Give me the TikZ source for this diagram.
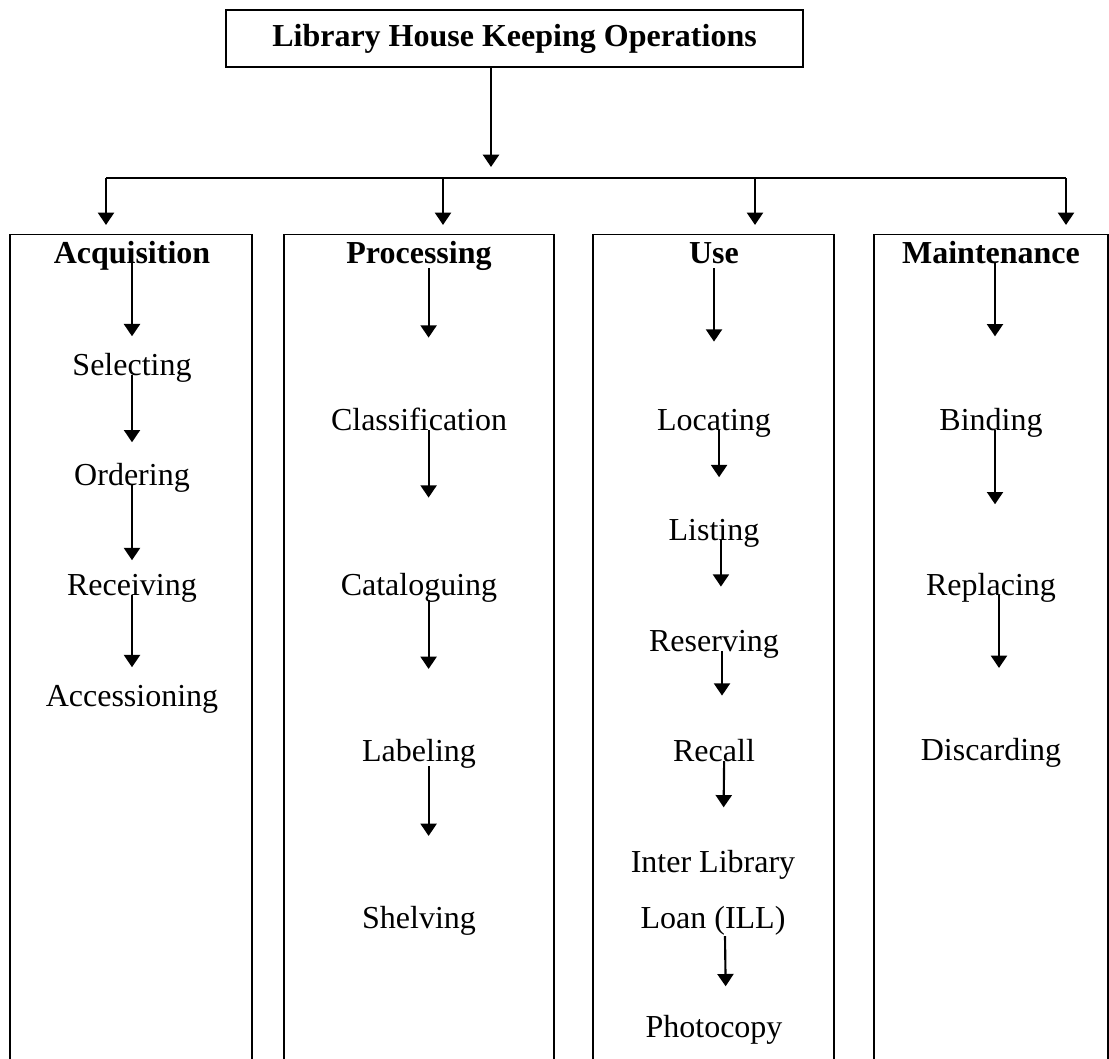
\documentclass[tikz,border=0pt]{standalone}
\usepackage{fontspec}
\setmainfont{Liberation Serif}
\usepackage{tikz}
\usetikzlibrary{arrows.meta,positioning}
\tikzset{
  ttl/.style={draw,line width=0.5pt,minimum width=216.4pt,minimum height=21.4pt,inner sep=0pt,
    font=\fontsize{12}{14}\selectfont\bfseries},
  col/.style={draw,line width=0.5pt,anchor=north,minimum height=340pt,inner sep=0pt},
  head/.style={anchor=base,inner sep=0pt,font=\fontsize{12}{14}\selectfont\bfseries},
  item/.style={anchor=base,inner sep=0pt,font=\fontsize{12}{14}\selectfont},
  arr/.style={-{Triangle[length=4.6pt,width=6pt]},line width=0.8pt},
  bar/.style={line width=0.8pt},
}

\begin{document}
\begin{tikzpicture}[x=0.375pt,y=-0.375pt]
  \useasboundingbox (0,0) rectangle (1109,1059);
  \clip (0,0) rectangle (1109,1059);
  \node[ttl] (top) at (514.5,38.5) {Library House Keeping Operations};
  \coordinate (hub) at (491,167);
  \coordinate (b1) at (106,178);
  \coordinate (b2) at (443,178);
  \coordinate (b3) at (755,178);
  \coordinate (b4) at (1066,178);
  \draw[arr] (hub |- top.south) -- (hub);
  \draw[bar] (b1) -- (b4);

  \node[col,minimum width=90.75pt] (acqbox) at (131,234) {};
  \node[col,minimum width=101.25pt] (probox) at (419,234) {};
  \node[col,minimum width=90.4pt] (usebox) at (713.5,234) {};
  \node[col,minimum width=87.75pt] (maibox) at (991,234) {};
  \draw[arr,shorten >=3.4pt] (b1) -- (b1 |- acqbox.north);
  \draw[arr,shorten >=3.4pt] (b2) -- (b2 |- probox.north);
  \draw[arr,shorten >=3.4pt] (b3) -- (b3 |- usebox.north);
  \draw[arr,shorten >=3.4pt] (b4) -- (b4 |- maibox.north);

  \node[head] (acq) at (132,263) {Acquisition};
  \node[item] (sel) at (132,375) {Selecting};
  \node[item] (ord) at (132,485) {Ordering};
  \node[item] (rec) at (132,595) {Receiving};
  \node[item] (accn) at (132,706) {Accessioning};
  \draw[arr,shorten >=6pt] (acq.base) -- (sel.north);
  \draw[arr,shorten >=7.5pt] (sel.base) -- (ord.north);
  \draw[arr,shorten >=4.9pt] (ord.base) -- (rec.north);
  \draw[arr,shorten >=6.4pt] (rec.base) -- (accn.north);

  \node[head] (pro) at (419,263) {Processing};
  \node[item] (cla) at (419,430) {Classification};
  \node[item] (cat) at (419,595) {Cataloguing};
  \node[item] (lab) at (419,761) {Labeling};
  \node[item] (she) at (419,928) {Shelving};
  \draw[arr,shorten >=26pt] ([xshift=3.6pt,yshift=-1.9pt]pro.base) -- ([xshift=3.6pt]cla.north);
  \draw[arr,shorten >=28pt] ([xshift=3.6pt]cla.base) -- ([xshift=3.6pt]cat.north);
  \draw[arr,shorten >=26pt] ([xshift=3.6pt,yshift=-1.9pt]cat.base) -- ([xshift=3.6pt]lab.north);
  \draw[arr,shorten >=26pt] ([xshift=3.6pt,yshift=-1.9pt]lab.base) -- ([xshift=3.6pt]she.north);

  \node[head] (use) at (714,263) {Use};
  \node[item] (loc) at (714,430) {Locating};
  \node[item] (lis) at (714,540) {Listing};
  \node[item] (res) at (714,651) {Reserving};
  \node[item] (rcl) at (714,761) {Recall};
  \node[item,anchor=north,align=center,font=\fontsize{12}{21}\selectfont] (ill) at (713,850)
    {Inter Library\\Loan (ILL)};
  \node[item] (pho) at (714,1037) {Photocopy};
  \draw[arr,shorten >=25pt] ([yshift=-2pt]use.base) -- (loc.north);
  \draw[arr,shorten >=15.4pt] ([xshift=1.9pt]loc.base) -- ([xshift=1.9pt]lis.north);
  \draw[arr,shorten >=16pt] ([xshift=2.6pt]lis.base) -- ([xshift=2.6pt]res.north);
  \draw[arr,shorten >=16pt] ([xshift=3pt]res.base) -- ([xshift=3pt]rcl.north);
  \draw[arr,shorten >=16pt] ([xshift=3.8pt]rcl.base) -- ([xshift=3.8pt]ill.north);
  \draw[arr,shorten >=10.5pt] ([xshift=4.5pt]ill.south) -- ([xshift=4.5pt]pho.north);

  \node[head] (mai) at (991,263) {Maintenance};
  \node[item] (bin) at (991,430) {Binding};
  \node[item] (rep) at (991,595) {Replacing};
  \node[item] (dis) at (991,760) {Discarding};
  \draw[arr,shorten >=26.6pt] ([xshift=1.5pt]mai.base) -- ([xshift=1.5pt]bin.north);
  \draw[arr,shorten >=25.5pt] ([xshift=1.5pt]bin.base) -- ([xshift=1.5pt]rep.north);
  \draw[arr,shorten >=26pt] ([xshift=3pt]rep.base) -- ([xshift=3pt]dis.north);
\end{tikzpicture}
\end{document}
